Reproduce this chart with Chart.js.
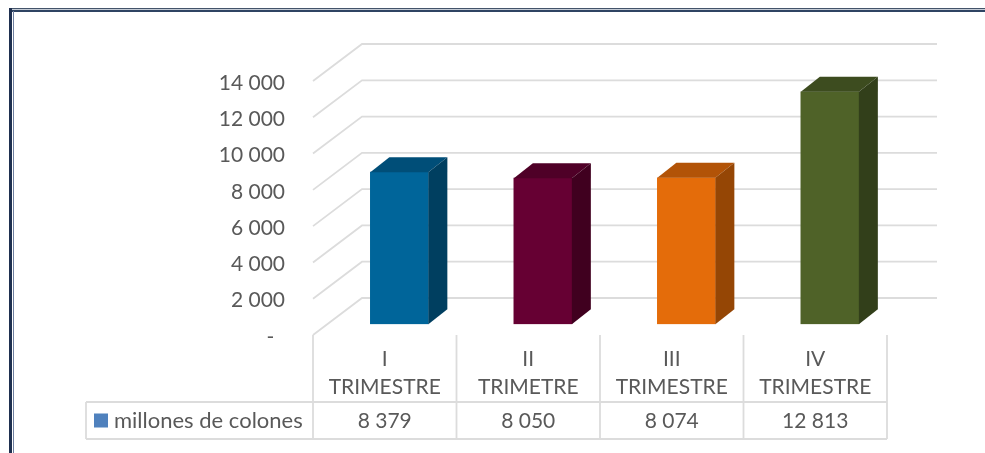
<!DOCTYPE html>
<html>
<head>
<meta charset="utf-8">
<script src="https://cdn.jsdelivr.net/npm/chart.js@4"></script>
<style>
  html, body { margin: 0; padding: 0; background: #fff; overflow: hidden; }
  #chart { position: absolute; left: 0; top: 0; }
  .frame { position: absolute; }
  #frameTop { left: 9px; right: 0; top: 8px; height: 1px; background: #44546a; border-bottom: 1px solid #c5ccd6; box-shadow: 0 2px 0 #2f4463; }
  #frameLeft { left: 9px; top: 8px; bottom: 0; width: 3px; background: #1f3050; }
  #frameLeft2 { left: 13px; top: 11px; bottom: 0; width: 1px; background: #6f80a0; }
</style>
</head>
<body>
<div class="frame" id="frameTop"></div>
<div class="frame" id="frameLeft"></div>
<div class="frame" id="frameLeft2"></div>
<canvas id="chart" width="985" height="453"></canvas>
<script>
const categories = [['I', 'TRIMESTRE'], ['II', 'TRIMETRE'], ['III', 'TRIMESTRE'], ['IV', 'TRIMESTRE']];
const seriesName = 'millones de colones';
const values = [8379, 8050, 8074, 12813];
const tickValues = [0, 2000, 4000, 6000, 8000, 10000, 12000, 14000];

const frontColors = ['#00659a', '#660033', '#e46c0a', '#4f6228'];
const topColors = ['#004e78', '#4f0027', '#b25307', '#3d4c1f'];
const sideColors = ['#003f60', '#40001f', '#954605', '#323f1a'];
const keyColor = '#4f81bd';
const textColor = '#595959';
const lineColor = '#dcdcdc';
const fontFamily = 'Lato, sans-serif';

// offsets of the fake 3d box, tick labels sit 2px below their lines
const labelShift = 2;
const wallDx = 49, wallDy = -37;
const barDx = 14.6, barDy = -12.8;
const depthDx = 19, depthDy = -15;
const tableLeft = 86, tableTop = 402, tableBottom = 439;

const formatNumber = n => String(n).replace(/\B(?=(\d{3})+$)/g, ' ');

const wallPlugin = {
  id: 'wall',
  beforeDatasetsDraw(chart) {
    const { ctx, chartArea, scales } = chart;
    ctx.save();
    ctx.strokeStyle = lineColor;
    ctx.lineWidth = 1.8;
    scales.y.ticks.forEach(tick => {
      const y = scales.y.getPixelForValue(tick.value) - labelShift;
      ctx.beginPath();
      ctx.moveTo(chartArea.left, y);
      ctx.lineTo(chartArea.left + wallDx, y + wallDy);
      ctx.lineTo(937, y + wallDy);
      ctx.stroke();
    });
    ctx.restore();
  },
  beforeDatasetDraw(chart) {
    chart.ctx.save();
    chart.ctx.translate(barDx, barDy);
  },
  afterDatasetDraw(chart, args) {
    const ctx = chart.ctx;
    chart.getDatasetMeta(args.index).data.forEach((bar, i) => {
      const left = bar.x - bar.width / 2;
      const right = bar.x + bar.width / 2;
      ctx.fillStyle = topColors[i];
      ctx.beginPath();
      ctx.moveTo(left, bar.y);
      ctx.lineTo(left + depthDx, bar.y + depthDy);
      ctx.lineTo(right + depthDx, bar.y + depthDy);
      ctx.lineTo(right, bar.y);
      ctx.fill();
      ctx.fillStyle = sideColors[i];
      ctx.beginPath();
      ctx.moveTo(right, bar.y);
      ctx.lineTo(right + depthDx, bar.y + depthDy);
      ctx.lineTo(right + depthDx, bar.base + depthDy);
      ctx.lineTo(right, bar.base);
      ctx.fill();
    });
    ctx.restore();
  },
  afterDraw(chart) {
    const { ctx, chartArea, scales } = chart;
    const colWidth = (chartArea.right - chartArea.left) / categories.length;
    ctx.save();
    ctx.strokeStyle = lineColor;
    ctx.lineWidth = 1.8;
    ctx.beginPath();
    for (let i = 0; i <= categories.length; i++) {
      const x = chartArea.left + i * colWidth;
      ctx.moveTo(x, chartArea.bottom - labelShift);
      ctx.lineTo(x, tableBottom);
    }
    ctx.moveTo(tableLeft, tableTop);
    ctx.lineTo(chartArea.right, tableTop);
    ctx.moveTo(tableLeft, tableBottom);
    ctx.lineTo(chartArea.right, tableBottom);
    ctx.moveTo(tableLeft, tableTop);
    ctx.lineTo(tableLeft, tableBottom);
    ctx.stroke();

    const rowY = (tableTop + tableBottom) / 2;
    ctx.fillStyle = keyColor;
    ctx.fillRect(94, rowY - 7, 14, 14);
    ctx.fillStyle = textColor;
    ctx.font = '22px ' + fontFamily;
    ctx.textBaseline = 'middle';
    ctx.textAlign = 'left';
    ctx.fillText(seriesName, 114, rowY);
    ctx.font = '21px ' + fontFamily;
    ctx.textAlign = 'center';
    values.forEach((v, i) => {
      ctx.fillText(formatNumber(v), scales.x.getPixelForTick(i), rowY + 1);
    });
    ctx.restore();
  }
};

new Chart(document.getElementById('chart'), {
  type: 'bar',
  data: {
    labels: categories,
    datasets: [{
      label: seriesName,
      data: values,
      backgroundColor: frontColors,
      barThickness: 58
    }]
  },
  options: {
    responsive: false,
    animation: false,
    layout: { padding: { left: 0, right: 98, top: 83, bottom: 0 } },
    plugins: { legend: { display: false }, tooltip: { enabled: false } },
    scales: {
      x: {
        grid: { display: false, drawTicks: false },
        border: { display: false },
        afterFit: scale => { scale.height = 116; },
        ticks: {
          color: textColor,
          font: { family: fontFamily, size: 21, lineHeight: 1.33 },
          padding: 8,
          maxRotation: 0,
          autoSkip: false
        }
      },
      y: {
        min: 0,
        max: 14000,
        grid: { display: false, drawTicks: false },
        border: { display: false },
        afterFit: scale => { scale.width = 313; },
        afterBuildTicks: scale => { scale.ticks = tickValues.map(value => ({ value })); },
        ticks: {
          color: textColor,
          font: { family: fontFamily, size: 21 },
          padding: 28,
          callback: v => (v === 0 ? '-  ' : formatNumber(v))
        }
      }
    }
  },
  plugins: [wallPlugin]
});
</script>
</body>
</html>
